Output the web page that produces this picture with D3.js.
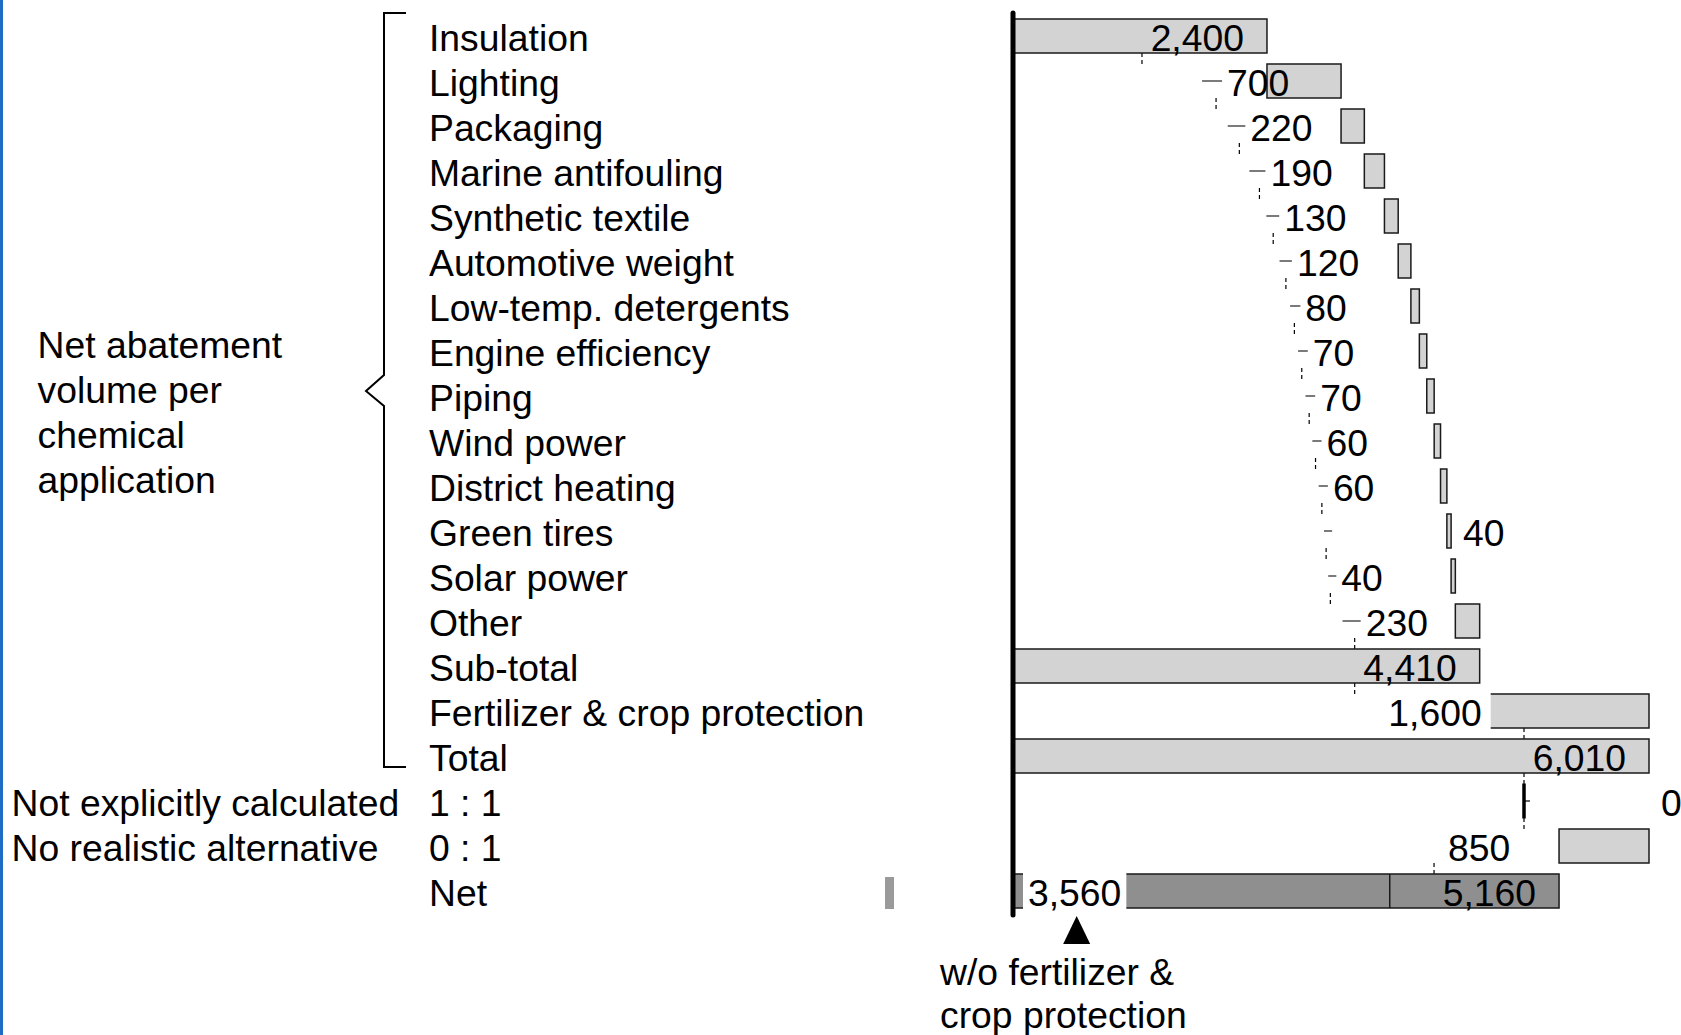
<!DOCTYPE html>
<html>
<head>
<meta charset="utf-8">
<script src="https://cdn.jsdelivr.net/npm/d3@7"></script>
<style>
  html, body { margin: 0; padding: 0; background: #fff; }
  svg text { font-family: "Liberation Sans", Arial, sans-serif; font-size: 37.3px; fill: #000; }
</style>
</head>
<body>
<svg id="chart" width="1681" height="1035"></svg>
<script>
// ---------------- data ----------------
const categories = [
  "Insulation", "Lighting", "Packaging", "Marine antifouling", "Synthetic textile",
  "Automotive weight", "Low-temp. detergents", "Engine efficiency", "Piping",
  "Wind power", "District heating", "Green tires", "Solar power", "Other",
  "Sub-total", "Fertilizer & crop protection", "Total", "1 : 1", "0 : 1", "Net"
];
const values = [2400, 700, 220, 190, 130, 120, 80, 70, 70, 60, 60, 40, 40, 230,
                4410, 1600, 6010, 0, -850, 5160];
const kinds = ["step", "step", "step", "step", "step", "step", "step", "step", "step",
               "step", "step", "step", "step", "step",
               "total", "step", "total", "step", "step", "total"];
const netWithoutFertilizer = 3560;
const netNoteLines = ["w/o fertilizer &", "crop protection"];
const groupLabel = ["Net abatement", "volume per", "chemical", "application"];
const sideLabels = [
  { row: "1 : 1", text: "Not explicitly calculated" },
  { row: "0 : 1", text: "No realistic alternative" }
];
const labelRightRows = ["Green tires"];

// ---------------- layout ----------------
const W = 1681, H = 1035;
const svg = d3.select("#chart");
const fmt = d3.format(",");

const x = d3.scaleLinear().domain([0, 6010]).range([1013, 1649]);
const labelShift = -125;                     // offset of the leader/connector layer
const xs = v => x(v) + labelShift;
const y = d3.scaleBand().domain(categories).range([13.5, 913.5])
  .paddingInner(0.2444).paddingOuter(0.1222);
const bw = y.bandwidth();
const base = c => y(c) + bw / 2 + 14.5;      // text baseline for a row

// compute waterfall geometry
let level = 0;
const rows = categories.map((c, i) => {
  const v = values[i];
  let x0, x1;
  if (kinds[i] === "total") { x0 = 0; x1 = v; level = v; }
  else { const prev = level; level = prev + v; x0 = Math.min(prev, level); x1 = Math.max(prev, level); }
  return { cat: c, i, v, kind: kinds[i], x0, x1, level };
});

const BAR_FILL = "#d3d3d3", NET_FILL = "#8f8f8f", STROKE = "#1a1a1a";

// blue edge
svg.append("rect").attr("x", 0).attr("y", 0).attr("width", 3).attr("height", H).attr("fill", "#1f6cc4");

// bracket
svg.append("path")
  .attr("d", "M406,13 H384 V375 L366,391 L384,406 V767 H406")
  .attr("fill", "none").attr("stroke", "#000").attr("stroke-width", 2);

// group label
svg.append("g").selectAll("text").data(groupLabel).join("text")
  .attr("x", 37.5).attr("y", (d, i) => 358 + 45 * i).text(d => d);

// category labels
svg.append("g").selectAll("text").data(categories).join("text")
  .attr("x", 429).attr("y", d => base(d)).text(d => d);

// side labels
svg.append("g").selectAll("text").data(sideLabels).join("text")
  .attr("x", 11.5).attr("y", d => base(d.row)).text(d => d.text);

// stray legend swatch
svg.append("rect").attr("x", 885).attr("y", 877).attr("width", 9).attr("height", 32).attr("fill", "#9a9a9a");

// connectors (dashed, behind bars)
const conn = svg.append("g");
rows.slice(0, -1).forEach((r, i) => {
  const next = rows[i + 1];
  conn.append("line")
    .attr("x1", xs(r.level)).attr("x2", xs(r.level))
    .attr("y1", y(r.cat) + bw).attr("y2", y(next.cat))
    .attr("stroke", "#000").attr("stroke-width", 1.2).attr("stroke-dasharray", "4,3");
});

// bars
const barRows = rows.filter(r => r.v !== 0);
svg.append("g").selectAll("rect").data(barRows).join("rect")
  .attr("x", r => x(r.x0)).attr("y", r => y(r.cat))
  .attr("width", r => x(r.x1) - x(r.x0)).attr("height", bw)
  .attr("fill", r => r.cat === "Net" ? NET_FILL : BAR_FILL)
  .attr("stroke", STROKE).attr("stroke-width", 1.5);

// zero-change marker
rows.filter(r => r.v === 0).forEach(r => {
  const cx = xs(r.level);
  svg.append("line").attr("x1", cx).attr("x2", cx)
    .attr("y1", y(r.cat) - 0.5).attr("y2", y(r.cat) + bw + 0.5)
    .attr("stroke", "#000").attr("stroke-width", 3.5);
  svg.append("line").attr("x1", cx).attr("x2", cx + 6)
    .attr("y1", y(r.cat) + bw / 2).attr("y2", y(r.cat) + bw / 2)
    .attr("stroke", "#000").attr("stroke-width", 1.2);
  svg.append("text").attr("x", x(r.level) + 12).attr("y", base(r.cat)).text(fmt(r.v));
});

// net split divider
svg.append("line")
  .attr("x1", x(netWithoutFertilizer)).attr("x2", x(netWithoutFertilizer))
  .attr("y1", y("Net")).attr("y2", y("Net") + bw)
  .attr("stroke", STROKE).attr("stroke-width", 1.5);

// value labels
const lab = svg.append("g");
function knockout(t, padL, padR, cat) {
  const b = t.node().getBBox();
  lab.insert("rect", () => t.node())
    .attr("x", b.x - padL).attr("y", y(cat) - 1.5)
    .attr("width", b.width + padL + padR).attr("height", bw + 3)
    .attr("fill", "#fff");
}
rows.forEach(r => {
  if (r.v === 0) return;
  const widthPx = x(r.x1) - x(r.x0);
  const txt = fmt(Math.abs(r.v));
  if (widthPx >= 200) {
    lab.append("text").attr("x", x(r.x1) - 23).attr("y", base(r.cat))
      .attr("text-anchor", "end").text(txt);
  } else if (widthPx >= 120) {
    const t = lab.append("text").attr("x", x(r.x0) + 2).attr("y", base(r.cat))
      .attr("text-anchor", "end").text(txt);
    knockout(t, 5, 9, r.cat);
  } else if (r.v < 0) {
    lab.append("text").attr("x", xs(r.level) + 14).attr("y", base(r.cat)).text(txt);
  } else {
    const sEnd = xs(r.x1);
    const sw = xs(r.x1) - xs(r.x0);
    const len = Math.min(20, 6 + 0.5 * sw);
    lab.append("line").attr("x1", sEnd + 6 - len).attr("x2", sEnd + 6)
      .attr("y1", y(r.cat) + bw / 2).attr("y2", y(r.cat) + bw / 2)
      .attr("stroke", "#222").attr("stroke-width", 1.2);
    if (labelRightRows.includes(r.cat)) {
      lab.append("text").attr("x", x(r.x1) + 12).attr("y", base(r.cat)).text(txt);
    } else {
      lab.append("text").attr("x", sEnd + 11).attr("y", base(r.cat)).text(txt);
    }
  }
});

// net w/o fertilizer label with knockout
const tNet = lab.append("text").attr("x", x(0) + 15).attr("y", base("Net")).text(fmt(netWithoutFertilizer));
knockout(tNet, 5, 5, "Net");
const nb = tNet.node().getBBox();
const triX = nb.x + nb.width / 2 + 2;
svg.append("path")
  .attr("d", `M${triX - 13.5},944 L${triX + 13.5},944 L${triX},916 Z`)
  .attr("fill", "#000");
svg.append("g").selectAll("text").data(netNoteLines).join("text")
  .attr("x", 940).attr("y", (d, i) => 985 + 43 * i).text(d => d);

// axis line
svg.append("line").attr("x1", x(0)).attr("x2", x(0)).attr("y1", 13).attr("y2", 915)
  .attr("stroke", "#000").attr("stroke-width", 5).attr("stroke-linecap", "round");
</script>
</body>
</html>
